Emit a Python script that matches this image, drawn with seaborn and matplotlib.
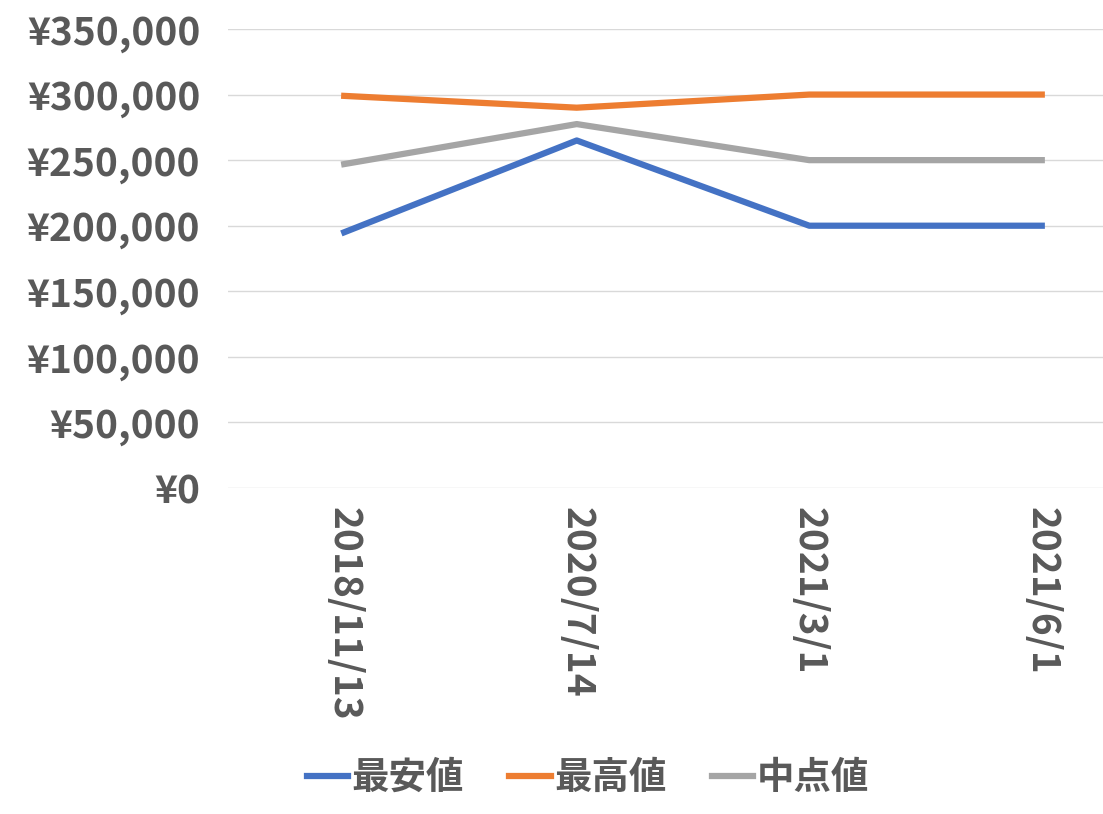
import matplotlib
matplotlib.use("Agg")
import matplotlib.pyplot as plt
from matplotlib.ticker import FuncFormatter
import seaborn as sns
import pandas as pd

dates = ["2018/11/13", "2020/7/14", "2021/3/1", "2021/6/1"]
low_vals = [195000, 265000, 200000, 200000]
high_vals = [299000, 290000, 300000, 300000]
mid_vals = [247000, 277500, 250000, 250000]

series_names = ["最安値", "最高値", "中点値"]
colors = ["#4472C4", "#ED7D31", "#A5A5A5"]

df = pd.DataFrame({"date": dates * 3,
                   "value": low_vals + high_vals + mid_vals,
                   "series": [n for n in series_names for _ in dates]})
df["x"] = list(range(len(dates))) * 3

plt.rcParams["font.family"] = "Noto Sans CJK JP"
fig = plt.figure(figsize=(11.03, 8.14), dpi=100)
# axes run a little past the right edge so the category spacing matches
ax = fig.add_axes([228 / 1103, 1 - 488 / 814, 930 / 1103, 459 / 814])

sns.lineplot(data=df, x="x", y="value", hue="series", palette=colors,
             linewidth=4.5, ax=ax, legend=True)

ax.set_xlim(-0.5, 3.5)
ax.set_ylim(0, 350000)
ax.set_yticks(range(0, 350001, 50000))
ax.yaxis.set_major_formatter(FuncFormatter(lambda v, p: f"¥{int(v):,}"))
ax.set_xticks(range(len(dates)))
ax.set_xticklabels(dates, rotation=-90)
ax.grid(axis="y", color="#D9D9D9", linewidth=1)
ax.set_axisbelow(True)
for s in ax.spines.values():
    s.set_visible(False)
ax.tick_params(length=0, labelsize=28, labelcolor="#595959", pad=14)
ax.tick_params(axis="y", pad=20)
for lab in ax.get_xticklabels() + ax.get_yticklabels():
    lab.set_fontweight("bold")
ax.set_xlabel("")
ax.set_ylabel("")

handles, labels = ax.get_legend_handles_labels()
ax.legend(handles, labels, loc="center", bbox_to_anchor=(360 / 930, -0.63),
          ncol=3, frameon=False, handlelength=1.1, handletextpad=0.1, columnspacing=1.2,
          prop={"size": 27, "weight": "bold"}, labelcolor="#595959")

fig.savefig("out.png", dpi=100)
